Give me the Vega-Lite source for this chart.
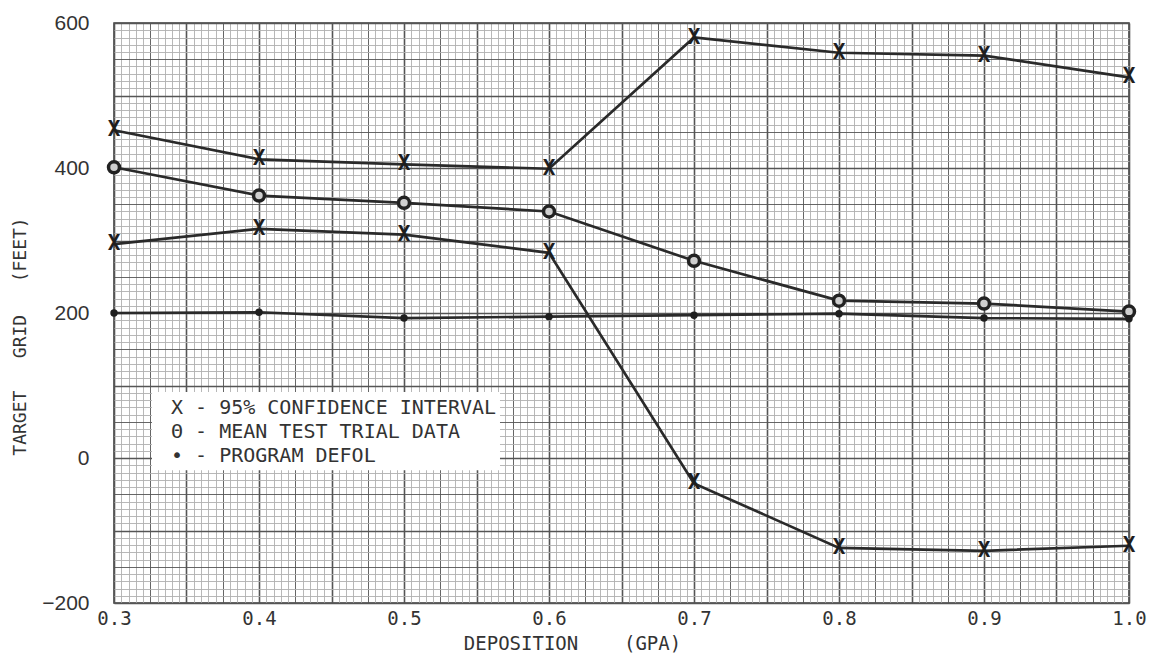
{
  "$schema": "https://vega.github.io/schema/vega-lite/v6.json",
  "width": 1015,
  "height": 580,
  "autosize": {"type": "none"},
  "padding": {"left": 114, "top": 23, "right": 28, "bottom": 55},
  "background": "white",
  "config": {
    "view": {"stroke": "#3a3a3a", "strokeWidth": 1.5}
  },
  "layer": [
    {
      "data": {
        "values": [
          {"gpa": 0.3, "series": "upper", "ft": 452},
          {"gpa": 0.4, "series": "upper", "ft": 412},
          {"gpa": 0.5, "series": "upper", "ft": 405},
          {"gpa": 0.6, "series": "upper", "ft": 399},
          {"gpa": 0.7, "series": "upper", "ft": 580},
          {"gpa": 0.8, "series": "upper", "ft": 559},
          {"gpa": 0.9, "series": "upper", "ft": 555},
          {"gpa": 1.0, "series": "upper", "ft": 525},
          {"gpa": 0.3, "series": "mean", "ft": 401},
          {"gpa": 0.4, "series": "mean", "ft": 362},
          {"gpa": 0.5, "series": "mean", "ft": 352},
          {"gpa": 0.6, "series": "mean", "ft": 340},
          {"gpa": 0.7, "series": "mean", "ft": 272},
          {"gpa": 0.8, "series": "mean", "ft": 217},
          {"gpa": 0.9, "series": "mean", "ft": 213},
          {"gpa": 1.0, "series": "mean", "ft": 202},
          {"gpa": 0.3, "series": "lower", "ft": 295},
          {"gpa": 0.4, "series": "lower", "ft": 316},
          {"gpa": 0.5, "series": "lower", "ft": 308},
          {"gpa": 0.6, "series": "lower", "ft": 283},
          {"gpa": 0.7, "series": "lower", "ft": -35},
          {"gpa": 0.8, "series": "lower", "ft": -124},
          {"gpa": 0.9, "series": "lower", "ft": -128},
          {"gpa": 1.0, "series": "lower", "ft": -121},
          {"gpa": 0.3, "series": "program", "ft": 200},
          {"gpa": 0.4, "series": "program", "ft": 201},
          {"gpa": 0.5, "series": "program", "ft": 193},
          {"gpa": 0.6, "series": "program", "ft": 195},
          {"gpa": 0.7, "series": "program", "ft": 197},
          {"gpa": 0.8, "series": "program", "ft": 199},
          {"gpa": 0.9, "series": "program", "ft": 193},
          {"gpa": 1.0, "series": "program", "ft": 192}
        ]
      },
      "encoding": {
        "x": {
          "field": "gpa",
          "type": "quantitative",
          "scale": {"domain": [0.3, 1.0], "nice": false, "zero": false},
          "axis": {
            "title": "DEPOSITION\u00a0\u00a0\u00a0\u00a0(GPA)",
            "titleFont": "DejaVu Sans Mono",
            "titleFontSize": 19,
            "titleFontWeight": "normal",
            "titleColor": "#333333",
            "titleAlign": "center",
            "titleBaseline": "top",
            "titleX": 458,
            "titleY": 31,
            "tickCount": 140,
            "labelExpr": "abs(datum.value * 10 - round(datum.value * 10)) < 0.001 ? format(datum.value, '.1f') : ''",
            "labelFont": "DejaVu Sans Mono",
            "labelFontSize": 19,
            "labelColor": "#333333",
            "labelPadding": 6,
            "labelOverlap": false,
            "labelFlush": false,
            "labelBound": false,
            "ticks": false,
            "domain": false,
            "grid": true,
            "gridOpacity": 1,
            "gridColor": {"condition": {"test": "abs(datum.value * 40 - round(datum.value * 40)) < 0.001", "value": "#555555"}, "value": "#b0b0b0"},
            "gridWidth": {"condition": {"test": "abs(datum.value * 20 - round(datum.value * 20)) < 0.001", "value": 1.6}, "value": 0.9}
          }
        },
        "y": {
          "field": "ft",
          "type": "quantitative",
          "scale": {"domain": [-200, 600], "nice": false, "zero": false},
          "axis": {
            "title": "TARGET\u00a0\u00a0\u00a0GRID\u00a0\u00a0\u00a0(FEET)",
            "titleFont": "DejaVu Sans Mono",
            "titleFontSize": 18,
            "titleFontWeight": "normal",
            "titleColor": "#333333",
            "titleAlign": "center",
            "titleBaseline": "middle",
            "titleAngle": -90,
            "titleX": -94,
            "titleY": 313,
            "tickCount": 80,
            "labelExpr": "abs(datum.value % 200) < 0.001 ? format(datum.value, 'd') : ''",
            "labelFont": "Liberation Sans",
            "labelFontSize": 21,
            "labelColor": "#333333",
            "labelPadding": 25,
            "labelOverlap": false,
            "labelFlush": false,
            "labelBound": false,
            "ticks": false,
            "domain": false,
            "grid": true,
            "gridOpacity": 1,
            "gridColor": {"condition": {"test": "abs(datum.value % 50) < 0.001", "value": "#555555"}, "value": "#b0b0b0"},
            "gridWidth": {"condition": {"test": "abs(datum.value % 100) < 0.001", "value": 1.6}, "value": 0.9}
          }
        }
      },
      "layer": [
        {
          "mark": {"type": "line", "color": "#2a2a2a", "strokeWidth": 2.7},
          "encoding": {"detail": {"field": "series", "type": "nominal"}}
        },
        {
          "transform": [{"filter": "datum.series === 'upper' || datum.series === 'lower'"}],
          "mark": {"type": "text", "text": "X", "font": "DejaVu Sans Mono", "fontWeight": "bold", "fontSize": 21, "align": "center", "baseline": "middle", "color": "#1e1e1e"}
        },
        {
          "transform": [{"filter": "datum.series === 'mean'"}],
          "mark": {"type": "point", "shape": "circle", "size": 120, "filled": true, "fill": "#cfcfcf", "stroke": "#222222", "strokeWidth": 3.5, "opacity": 1}
        },
        {
          "transform": [{"filter": "datum.series === 'program'"}],
          "mark": {"type": "point", "shape": "circle", "size": 55, "filled": true, "color": "#1e1e1e", "opacity": 1}
        }
      ]
    },
    {
      "data": {"values": [{"box": "legend"}]},
      "mark": {"type": "rect", "fill": "white", "stroke": null},
      "encoding": {
        "x": {"datum": 0.3262, "type": "quantitative"},
        "x2": {"datum": 0.5662},
        "y": {"datum": 91, "type": "quantitative"},
        "y2": {"datum": -17}
      }
    },
    {
      "data": {"values": [{"box": "legend"}]},
      "mark": {
        "type": "text",
        "text": ["X - 95% CONFIDENCE INTERVAL", "Θ - MEAN TEST TRIAL DATA", "• - PROGRAM DEFOL"],
        "font": "DejaVu Sans Mono",
        "fontSize": 20,
        "lineHeight": 24,
        "align": "left",
        "baseline": "alphabetic",
        "color": "#333333"
      },
      "encoding": {
        "x": {"datum": 0.3393, "type": "quantitative"},
        "y": {"datum": 61, "type": "quantitative"}
      }
    }
  ]
}
